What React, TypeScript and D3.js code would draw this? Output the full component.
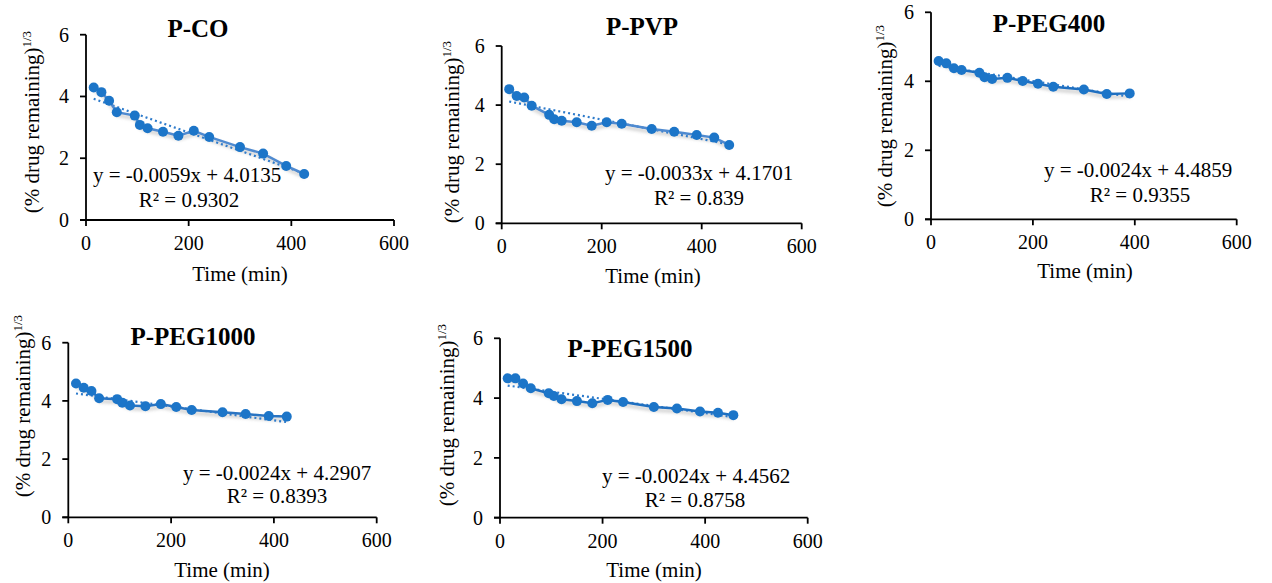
import React from "react";
import * as d3 from "d3";

// ---------- data ----------
const panelTitles = ["P-CO", "P-PVP", "P-PEG400", "P-PEG1000", "P-PEG1500"];

const timesCO = [15, 30, 45, 60, 95, 105, 120, 150, 180, 210, 240, 300, 345, 390, 425];
const valuesCO = [4.29, 4.14, 3.86, 3.49, 3.38, 3.08, 2.97, 2.86, 2.73, 2.89, 2.69, 2.36, 2.15, 1.75, 1.49];

const timesPVP = [15, 30, 45, 60, 95, 105, 120, 150, 180, 210, 240, 300, 345, 390, 425, 455];
const valuesPVP = [4.54, 4.31, 4.26, 3.98, 3.67, 3.52, 3.47, 3.42, 3.30, 3.42, 3.37, 3.19, 3.10, 2.99, 2.90, 2.65];

const timesPEG400 = [15, 30, 45, 60, 95, 105, 120, 150, 180, 210, 240, 300, 345, 390];
const valuesPEG400 = [4.59, 4.52, 4.38, 4.33, 4.25, 4.12, 4.07, 4.10, 4.01, 3.93, 3.84, 3.76, 3.63, 3.65];

const timesPEG1000 = [15, 30, 45, 60, 95, 105, 120, 150, 180, 210, 240, 300, 345, 390, 425];
const valuesPEG1000 = [4.60, 4.45, 4.34, 4.09, 4.06, 3.94, 3.84, 3.82, 3.89, 3.79, 3.69, 3.61, 3.55, 3.48, 3.46];

const timesPEG1500 = [15, 30, 45, 60, 95, 105, 120, 150, 180, 210, 240, 300, 345, 390, 425, 455];
const valuesPEG1500 = [4.66, 4.66, 4.49, 4.33, 4.16, 4.07, 3.96, 3.90, 3.83, 3.94, 3.87, 3.70, 3.65, 3.55, 3.51, 3.43];

const trendSlopes = [-0.0059, -0.0033, -0.0024, -0.0024, -0.0024];
const trendIntercepts = [4.0135, 4.1701, 4.4859, 4.2907, 4.4562];
const equationTexts = [
  "y = -0.0059x + 4.0135",
  "y = -0.0033x + 4.1701",
  "y = -0.0024x + 4.4859",
  "y = -0.0024x + 4.2907",
  "y = -0.0024x + 4.4562",
];
const r2Texts = ["R² = 0.9302", "R² = 0.839", "R² = 0.9355", "R² = 0.8393", "R² = 0.8758"];

const xTicks = [0, 200, 400, 600];
const yTicks = [0, 2, 4, 6];
const xDomain = [0, 600];
const yDomain = [0, 6];
const xLabel = "Time (min)";
const yLabelMain = "(% drug remaining)";
const yLabelSup = "1/3";

const seriesTimes = [timesCO, timesPVP, timesPEG400, timesPEG1000, timesPEG1500];
const seriesValues = [valuesCO, valuesPVP, valuesPEG400, valuesPEG1000, valuesPEG1500];

// ---------- layout (pixels) ----------
type Layout = {
  x0: number; x1: number; y0: number; y1: number;
  title: [number, number];
  yLab: [number, number];
  xLab: [number, number];
  eq: [number, number];
  r2: [number, number];
  lineColor: string;
};
const layouts: Layout[] = [
  { x0: 86, x1: 394, y0: 220, y1: 34.7, title: [198, 37], yLab: [32, 122], xLab: [240, 281], eq: [93, 182], r2: [189, 207], lineColor: "#4f8ad0" },
  { x0: 501.7, x1: 801.7, y0: 223.3, y1: 46, title: [642, 35], yLab: [452, 132], xLab: [653, 283], eq: [605, 180], r2: [699, 205], lineColor: "#4f8ad0" },
  { x0: 931, x1: 1236.7, y0: 219.3, y1: 12.3, title: [1049, 32], yLab: [885, 116], xLab: [1085, 278], eq: [1044, 177], r2: [1140, 202], lineColor: "#1f6fc0" },
  { x0: 68.3, x1: 376.7, y0: 517.3, y1: 342.7, title: [193, 345], yLab: [23, 406], xLab: [222, 577], eq: [183, 480], r2: [277, 503], lineColor: "#2a74c2" },
  { x0: 500, x1: 807.7, y0: 517.7, y1: 338.3, title: [630, 357], yLab: [447, 415], xLab: [654, 577], eq: [602, 483], r2: [695, 507], lineColor: "#1f6fc0" },
];

const FONT = "'Liberation Serif', 'Times New Roman', serif";
const MARKER = "#1c75c8";

function Panel({ i }: { i: number }) {
  const L = layouts[i];
  const x = d3.scaleLinear().domain(xDomain).range([L.x0, L.x1]);
  const y = d3.scaleLinear().domain(yDomain).range([L.y0, L.y1]);
  const ts = seriesTimes[i];
  const vs = seriesValues[i];
  const pts: [number, number][] = ts.map((t, k) => [t, vs[k]]);
  const line = d3.line<[number, number]>().x((d) => x(d[0])).y((d) => y(d[1]));
  const tMin = d3.min(ts) as number;
  const tMax = d3.max(ts) as number;
  const trend: [number, number][] = [tMin, tMax].map((t) => [t, trendIntercepts[i] + trendSlopes[i] * t]);

  return (
    <g>
      {/* shadow */}
      <path d={line(pts) || ""} fill="none" stroke="#b8b8b8" strokeWidth={4} opacity={0.55}
        transform="translate(1,3)" filter="url(#blur)" />
      {/* axes */}
      <line x1={L.x0} x2={L.x0} y1={L.y1} y2={L.y0} stroke="#000" strokeWidth={1.8} />
      <line x1={L.x0 - 6} x2={L.x1} y1={L.y0} y2={L.y0} stroke="#000" strokeWidth={1.8} />
      {yTicks.map((t) => (
        <g key={"y" + t}>
          <line x1={L.x0 - 6} x2={L.x0} y1={y(t)} y2={y(t)} stroke="#000" strokeWidth={1.8} />
          <text x={L.x0 - 17} y={y(t)} dy="0.35em" textAnchor="end" fontFamily={FONT} fontSize={20}>{t}</text>
        </g>
      ))}
      {xTicks.map((t) => (
        <g key={"x" + t}>
          <line x1={x(t)} x2={x(t)} y1={L.y0} y2={L.y0 + 6} stroke="#000" strokeWidth={1.8} />
          <text x={x(t)} y={L.y0 + 30} textAnchor="middle" fontFamily={FONT} fontSize={20}>{t}</text>
        </g>
      ))}
      {/* trend line */}
      <path d={line(trend) || ""} fill="none" stroke="#2e7bcb" strokeWidth={2.2} strokeDasharray="2,3" />
      {/* data line */}
      <path d={line(pts) || ""} fill="none" stroke={L.lineColor} strokeWidth={2.5} />
      {pts.map((p, k) => (
        <circle key={k} cx={x(p[0])} cy={y(p[1])} r={5} fill={MARKER} />
      ))}
      {/* texts */}
      <text x={L.title[0]} y={L.title[1]} textAnchor="middle" fontFamily={FONT} fontSize={25} fontWeight="bold">{panelTitles[i]}</text>
      <text transform={`translate(${L.yLab[0]},${L.yLab[1]}) rotate(-90)`} textAnchor="middle" dy="0.35em" fontFamily={FONT} fontSize={21}>
        {yLabelMain}
        <tspan fontSize={13} dy="-8">{yLabelSup}</tspan>
      </text>
      <text x={L.xLab[0]} y={L.xLab[1]} textAnchor="middle" fontFamily={FONT} fontSize={21}>{xLabel}</text>
      <text x={L.eq[0]} y={L.eq[1]} fontFamily={FONT} fontSize={21}>{equationTexts[i]}</text>
      <text x={L.r2[0]} y={L.r2[1]} textAnchor="middle" fontFamily={FONT} fontSize={21}>{r2Texts[i]}</text>
    </g>
  );
}

export default function App() {
  return (
    <svg width={1272} height={583} style={{ position: "absolute", left: 0, top: 0, background: "#fff" }}>
      <defs>
        <filter id="blur" x="-10%" y="-50%" width="120%" height="200%">
          <feGaussianBlur stdDeviation={1.5} />
        </filter>
      </defs>
      <rect width={1272} height={583} fill="#fff" />
      {panelTitles.map((_, i) => (
        <Panel key={i} i={i} />
      ))}
    </svg>
  );
}
